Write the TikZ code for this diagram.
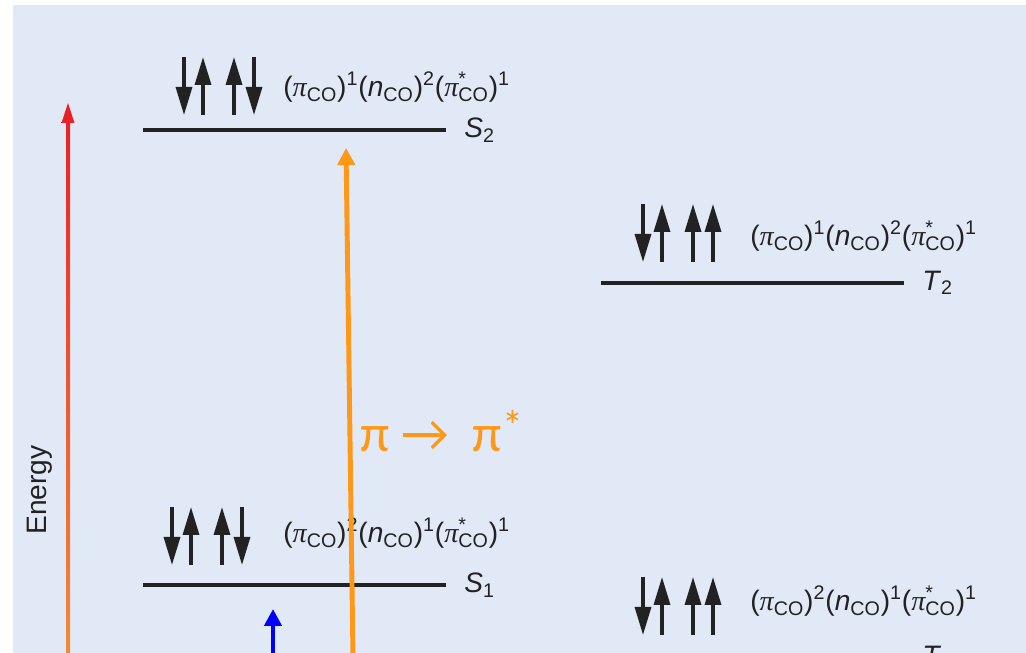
\documentclass[tikz,border=0pt]{standalone}
\usepackage{fontspec}
\setmainfont{Liberation Sans}
\newfontfamily\grkfont{Liberation Serif}
\newfontfamily\calfont{Carlito}
\usetikzlibrary{arrows.meta,positioning}

\definecolor{bgblue}{RGB}{225,232,246}
\definecolor{exred}{RGB}{232,30,40}
\definecolor{exorange}{RGB}{236,140,62}
\definecolor{pporange}{RGB}{255,152,22}
\definecolor{txtgray}{RGB}{34,34,34}

\newcommand{\orb}[2]{(#1\textsubscript{CO})\textsuperscript{#2}}
\newcommand{\grkpi}{{\grkfont\itshape π}}
\newcommand{\cfg}[3]{\orb{\grkpi}{#1}\orb{\textit{n}}{#2}\orb{\grkpi\rlap{\textsuperscript{*}}}{#3}}

\begin{document}
\begin{tikzpicture}[line cap=butt,every node/.style={inner sep=0pt},
    lvline/.style={line width=2pt,txtgray},
    spinarrow/.style={line width=1.9pt,txtgray,-{Triangle[length=0.56cm,width=0.32cm]}},
    conf/.style={anchor=west,text=txtgray,font=\fontsize{16}{19}\selectfont},
    statelab/.style={anchor=west,text=txtgray,font=\fontsize{16}{19}\selectfont},
    pparrow/.style={line width=2.8pt,pporange,-{Triangle[length=0.34cm,width=0.34cm]}},
    bluearrow/.style={line width=2.8pt,blue,-{Triangle[length=0.34cm,width=0.34cm]}}]
  \useasboundingbox (0,0) rectangle (20.52,13.06);
  % 底色
  \fill[bgblue] (0.26,0) rectangle (20.52,12.96);
  % 能量轴
  \shade[top color=exred,bottom color=exorange]
    (1.32,0) -- (1.32,10.60) -- (1.23,10.60) -- (1.36,11.00) -- (1.49,10.60) -- (1.40,10.60) -- (1.40,0) -- cycle;
  \node[rotate=90,text=txtgray,font=\fontsize{16}{19}\selectfont] (energy) at (0.80,3.26) {Energy};
  % 能级
  \foreach \nm/\xl/\yl/\xs/\ys/\lastdir/\xt/\yt/\pp/\nn/\ps/\sl/\si in {%
    stwo/2.86/10.46/3.68/10.76/-1/5.66/11.32/1/2/1/S/2,%
    sone/2.86/1.36/3.44/1.76/-1/5.66/2.40/2/1/1/S/1,%
    ttwo/12.02/7.40/12.86/7.82/1/15.00/8.34/1/2/1/T/2,%
    tone/12.02/-0.10/12.86/0.36/1/15.00/1.04/2/1/1/T/1%
  } {
    \coordinate (\nm-l) at (\xl,\yl);
    \coordinate (\nm-r) at ({\xl+6.06},\yl);
    \draw[lvline] (\nm-l) -- (\nm-r);
    \node[statelab,right=0.36cm of \nm-r] (\nm-lab) {\textit{\sl}\textsubscript{\si}};
    % 自旋
    \foreach \dx/\dir in {0/-1,0.38/1,1.0/1,1.4/\lastdir} {
      \draw[spinarrow] ({\xs+\dx},{\ys+0.58-0.58*\dir}) -- ({\xs+\dx},{\ys+0.58+0.58*\dir});
    }
    \node[conf] (\nm-cfg) at (\xt,\yt) {\cfg{\pp}{\nn}{\ps}};
  }
  % 跃迁
  \coordinate (pp-bot) at (7.06,-0.10);
  \coordinate (pp-top) at (6.92,10.10);
  \draw[pparrow] (pp-bot) -- (pp-top);
  \node[anchor=base west,text=pporange,font=\calfont\fontsize{30}{34}\selectfont] (pp-lab) at (7.20,4.02)
    {π → ~π\raisebox{0.22em}{\fontsize{24}{26}\selectfont*}};
  \coordinate (nb-bot) at (5.46,-0.10);
  \coordinate (nb-top) at (5.46,0.88);
  \draw[bluearrow] (nb-bot) -- (nb-top);
\end{tikzpicture}
\end{document}
